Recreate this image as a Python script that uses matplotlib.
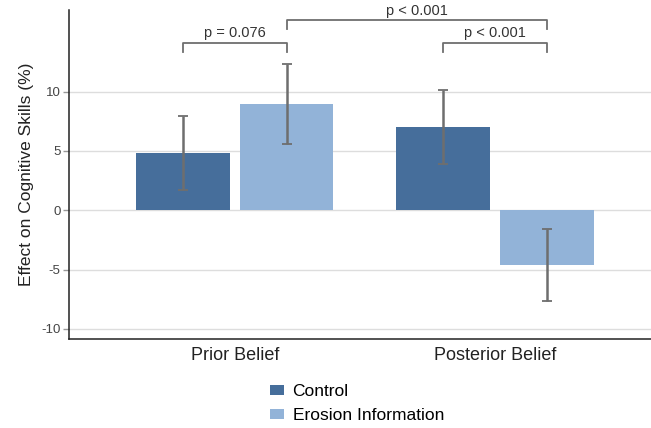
import numpy as np
import matplotlib.pyplot as plt

plt.rcParams['font.family'] = ['Liberation Sans', 'DejaVu Sans']
plt.rcParams['axes.unicode_minus'] = False

groups = ["Prior Belief", "Posterior Belief"]
series = ["Control", "Erosion Information"]
control = [4.85, 7.05]
erosion = [9.0, -4.65]
control_lo = [1.73, 3.92]
control_hi = [7.97, 10.17]
erosion_lo = [5.61, -7.64]
erosion_hi = [12.32, -1.56]
colors = ["#466e9b", "#92b3d8"]

fig = plt.figure(figsize=(6.51, 4.28), dpi=100)
ax = fig.add_axes([0.106, 0.208, 0.894, 0.769])

x = np.arange(len(groups))
w = 0.36
off = 0.199
errc = "#6e6e6e"

for vals, lo, hi, d, c, lab in [(control, control_lo, control_hi, -off, colors[0], series[0]),
                                (erosion, erosion_lo, erosion_hi, off, colors[1], series[1])]:
    vals = np.array(vals)
    ax.bar(x + d, vals, width=w, color=c, label=lab, zorder=2)
    yerr = [vals - np.array(lo), np.array(hi) - vals]
    ax.errorbar(x + d, vals, yerr=yerr, fmt='none', ecolor=errc, elinewidth=1.8,
                capsize=3.5, capthick=1.3, zorder=3)

ax.set_xlim(-0.638, 1.6)
ax.set_ylim(-10.85, 16.9)
ax.set_yticks([-10, -5, 0, 5, 10])
ax.set_xticks(x)
ax.set_xticklabels(groups, fontsize=13, color="#222222")
ax.tick_params(axis='x', length=0, pad=6)
ax.tick_params(axis='y', length=4, width=1, color="#999999", labelsize=9.5,
               labelcolor="#444444", pad=2)
ax.yaxis.grid(True, color="#dddddd", linewidth=1, zorder=0)
ax.set_axisbelow(True)
for s in ["top", "right"]:
    ax.spines[s].set_visible(False)
for s in ["left", "bottom"]:
    ax.spines[s].set_color("#222222")
    ax.spines[s].set_linewidth(1.1)
ax.set_ylabel("Effect on Cognitive Skills (%)", fontsize=12.5, color="#222222", labelpad=5)


def bracket(x1, x2, ytop, ybot, text, ty):
    ax.plot([x1, x1, x2, x2], [ybot, ytop, ytop, ybot], color="#6e6e6e", lw=1.3,
            clip_on=False, zorder=4)
    ax.text((x1 + x2) / 2, ty, text, ha='center', va='center', fontsize=10.5,
            color="#333333", clip_on=False)


bracket(x[0] - off, x[0] + off, 14.13, 13.37, "p = 0.076", 14.98)
bracket(x[0] + off, x[1] + off, 16.08, 15.32, "p < 0.001", 16.84)
bracket(x[1] - off, x[1] + off, 14.13, 13.37, "p < 0.001", 14.98)

fig.legend(loc='upper left', bbox_to_anchor=(0.4147, 0.102), frameon=False,
           fontsize=12.5, handlelength=0.8, handleheight=0.45, handletextpad=0.5,
           labelspacing=0.5, borderpad=0, borderaxespad=0)

fig.savefig("out.png", dpi=100)
